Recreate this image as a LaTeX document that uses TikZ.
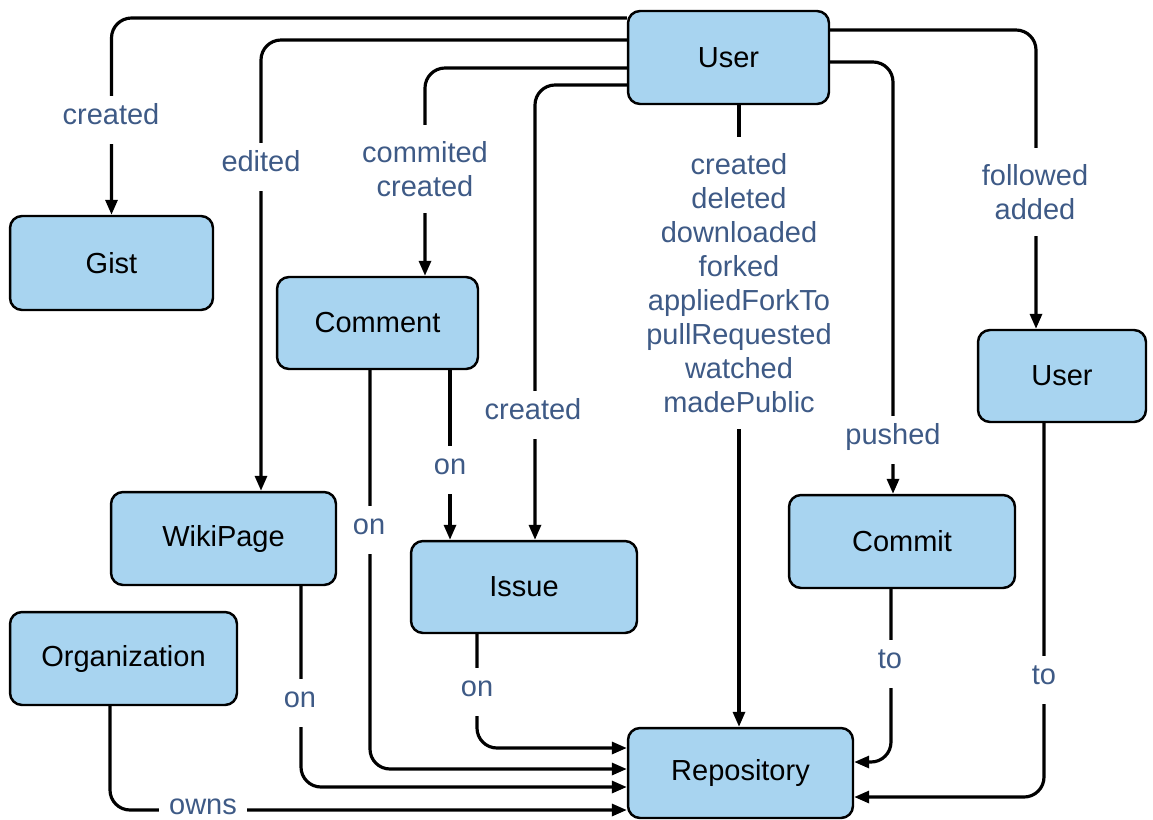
\documentclass[tikz,border=0pt]{standalone}
\usepackage{fontspec}
\setmainfont{Liberation Sans}
\usetikzlibrary{arrows.meta}
\definecolor{boxfill}{RGB}{168,212,240}
\definecolor{lblc}{RGB}{62,90,134}
\newcommand\figfont{\fontsize{16.5}{19.4}\selectfont}

\begin{document}
\begin{tikzpicture}[x=0.02cm,y=-0.02cm,
  entity/.style={draw=black, line width=1.4pt, fill=boxfill, rounded corners=0.24cm,
    font=\figfont, inner sep=0pt},
  conn/.style={line width=1.8pt, rounded corners=0.4cm,
    -{Triangle[length=0.3cm,width=0.24cm]}},
  lbl/.style={fill=white, text=lblc, font=\figfont, inner xsep=0.2cm, inner ysep=0.32cm,
    text height=0.73em, text depth=0.22em},
  mlbl/.style={fill=white, text=lblc, font=\figfont, align=center,
    inner xsep=0.2cm, inner ysep=0.32cm}]
\useasboundingbox (0,0) rectangle (1153,819);

% entities
\node[entity, minimum width=4.02cm, minimum height=1.86cm] (user)    at (728.5,57.5) {User};
\node[entity, minimum width=4.06cm, minimum height=1.88cm] (gist)    at (111.5,263)  {Gist};
\node[entity, minimum width=4.02cm, minimum height=1.84cm] (comment) at (377.5,323)  {Comment};
\node[entity, minimum width=4.50cm, minimum height=1.86cm] (wiki)    at (223.5,538.5) {WikiPage};
\node[entity, minimum width=4.54cm, minimum height=1.86cm] (org)     at (123.5,658.5) {Organization};
\node[entity, minimum width=4.52cm, minimum height=1.84cm] (issue)   at (524,587)    {Issue};
\node[entity, minimum width=4.52cm, minimum height=1.86cm] (commit)  at (902,541.5)  {Commit};
\node[entity, minimum width=3.36cm, minimum height=1.84cm] (user2)   at (1062,376)   {User};
\node[entity, minimum width=4.50cm, minimum height=1.80cm] (repo)    at (740.5,773)  {Repository};

% relations leaving the acting user
\draw[conn] (user.west |- 0,18) -| (gist.north);
\draw[conn] (user.west |- 0,40) -| (261,0 |- wiki.north);
\draw[conn] (user.west |- 0,68) -| (425,0 |- comment.north);
\draw[conn] (user.west |- 0,85) -| (535,0 |- issue.north);
\draw[conn] (739,0 |- user.south) -- (739,0 |- repo.north);
\draw[conn] (user.east |- 0,62) -| (893,0 |- commit.north);
\draw[conn] (user.east |- 0,30) -| (1036,0 |- user2.north);

% relations between the other entities
\draw[conn] (450,0 |- comment.south) -- (450,0 |- issue.north);
\draw[conn] (370,0 |- comment.south) |- (repo.west |- 0,769);
\draw[conn] (301,0 |- wiki.south) |- (repo.west |- 0,787);
\draw[conn] (477,0 |- issue.south) |- (repo.west |- 0,748);
\draw[conn] (110,0 |- org.south) |- (repo.west |- 0,810);
\draw[conn] (891,0 |- commit.south) |- (repo.east |- 0,762);
\draw[conn] (1044,0 |- user2.south) |- (repo.east |- 0,797);

% relation labels
\node[lbl]  (lgist)    at (111,120) {created};
\node[lbl]  (lwiki)    at (261,167) {edited};
\node[mlbl] (lcomment) at (425,169) {commited\\created};
\node[lbl]  (lissue)   at (533,415) {created};
\node[mlbl] (lrepo)    at (739,283) {created\\deleted\\downloaded\\forked\\appliedForkTo\\pullRequested\\watched\\madePublic};
\node[lbl]  (lcommit)  at (893,440) {pushed};
\node[mlbl] (luser)    at (1035,192) {followed\\added};
\node[lbl]  (lcomiss)  at (450,470) {on};
\node[lbl]  (lcomrepo) at (369,530) {on};
\node[lbl]  (lwikirepo) at (300,703) {on};
\node[lbl]  (lissrepo) at (477,692) {on};
\node[lbl]  (lcomtrepo) at (890,664) {to};
\node[lbl]  (lusrrepo) at (1044,680) {to};
\node[lbl]  (lorgrepo) at (203,810) {owns};
\end{tikzpicture}
\end{document}
